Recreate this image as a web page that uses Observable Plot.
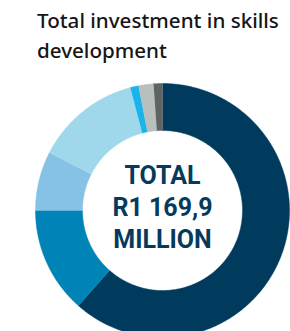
<!DOCTYPE html>
<html><head><meta charset="utf-8">
<script src="https://cdn.jsdelivr.net/npm/d3@7"></script>
<script src="https://cdn.jsdelivr.net/npm/@observablehq/plot@0.6"></script>
<style>
html,body{margin:0;padding:0;background:#fff;overflow:hidden;}
#title{font-family:"Noto Sans",sans-serif;font-size:20.6px;font-weight:500;color:#151515;line-height:29.5px;padding:6px 0 0 37px;height:70px;box-sizing:border-box;white-space:nowrap;}
#chart svg{display:block;}
</style></head><body>
<div id="title">Total investment in skills<br>development</div>
<div id="chart"></div>
<script>
const categories = ["Segment 1", "Segment 2", "Segment 3", "Segment 4", "Segment 5", "Segment 6", "Segment 7"];
const values = [719.5, 158.0, 87.7, 157.0, 12.3, 22.2, 13.2];
const colors = ["#003b5e", "#0083b6", "#86c2e6", "#a0d8eb", "#1bb3ea", "#b9bfbd", "#5e6366"];
const totalLabel = ["TOTAL", "R1 169,9", "MILLION"];

const table = categories.map((c, i) => ({category: c, value: values[i]}));
const W = 290, H = 261, cx = 162, cy = 140, R = 127, r = 80;
const arcs = d3.pie().sort(null).value(d => d.value)(table);
const pts = arcs.flatMap(p => {
  const n = Math.max(2, Math.ceil((p.endAngle - p.startAngle) / 0.01));
  const out = [];
  for (let i = 0; i <= n; i++) {
    const a = p.startAngle + (p.endAngle - p.startAngle) * i / n;
    out.push({category: p.data.category, x: R * Math.sin(a), y: R * Math.cos(a)});
  }
  for (let i = n; i >= 0; i--) {
    const a = p.startAngle + (p.endAngle - p.startAngle) * i / n;
    out.push({category: p.data.category, x: r * Math.sin(a), y: r * Math.cos(a)});
  }
  return out;
});

const chart = Plot.plot({
  width: W, height: H,
  margin: 0,
  x: {domain: [-cx, W - cx], axis: null},
  y: {domain: [cy - H, cy], axis: null},
  color: {domain: categories, range: colors},
  marks: [
    Plot.line(pts, {x: "x", y: "y", z: "category", fill: "category", stroke: "category", strokeWidth: 0.5, curve: "linear"}),
    Plot.text([totalLabel.join("\n")], {x: () => 0, y: () => 0, text: d => d, fontFamily: "Roboto", fontWeight: 700, fontSize: 25, lineHeight: 1.28, fill: "#063a5c", textAnchor: "middle", lineAnchor: "middle", dy: -5})
  ]
});
document.getElementById("chart").appendChild(chart);
</script>
</body></html>
